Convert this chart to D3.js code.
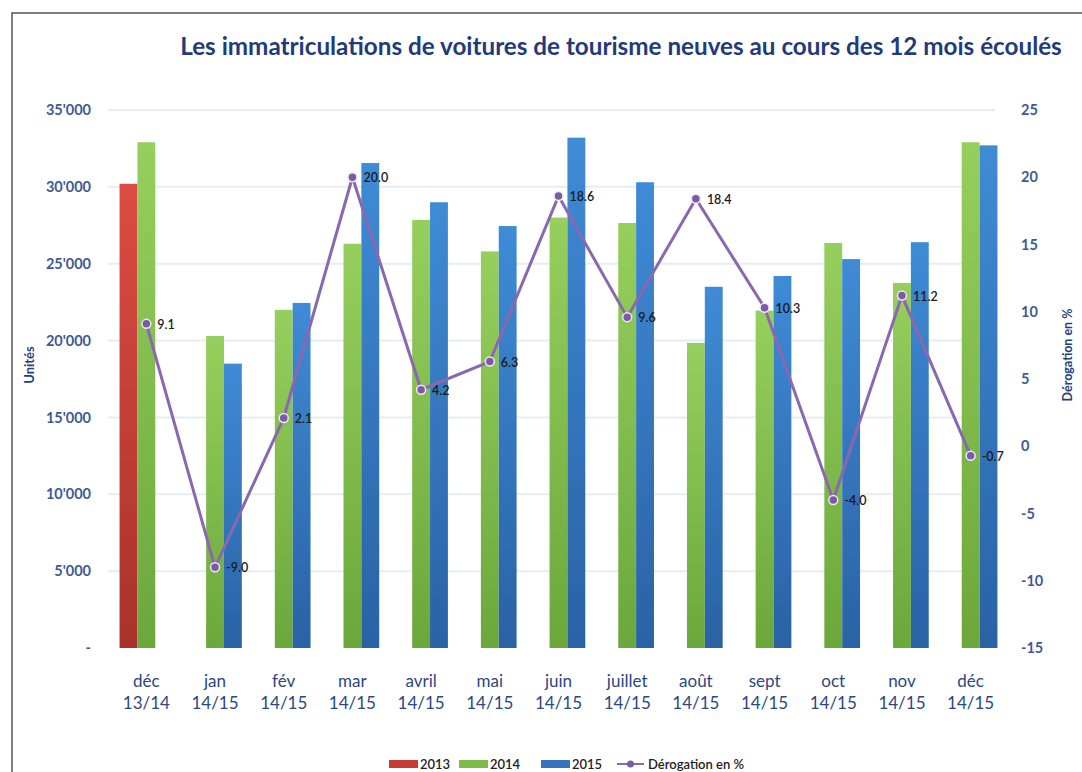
<!DOCTYPE html>
<html>
<head>
<meta charset="utf-8">
<script src="https://cdn.jsdelivr.net/npm/d3@7"></script>
<style>
  body { margin: 0; background: #fff; }
  svg { display: block; font-family: Lato, "Open Sans", sans-serif; }
</style>
</head>
<body>
<div id="chart"></div>
<script>
// data
var months = ['déc', 'jan', 'fév', 'mar', 'avril', 'mai', 'juin', 'juillet', 'août', 'sept', 'oct', 'nov', 'déc'];
var periods = ['13/14', '14/15', '14/15', '14/15', '14/15', '14/15', '14/15', '14/15', '14/15', '14/15', '14/15', '14/15', '14/15'];
var units2013 = [30200, null, null, null, null, null, null, null, null, null, null, null, null];
var units2014 = [32900, 20300, 22000, 26300, 27850, 25800, 28000, 27650, 19850, 21950, 26350, 23750, 32900];
var units2015 = [null, 18500, 22450, 31550, 29000, 27450, 33200, 30300, 23500, 24200, 25300, 26400, 32700];
var derogation = [9.1, -9.0, 2.1, 20.0, 4.2, 6.3, 18.6, 9.6, 18.4, 10.3, -4.0, 11.2, -0.7];
var leftTicks = [0, 5000, 10000, 15000, 20000, 25000, 30000, 35000];
var rightTicks = [-15, -10, -5, 0, 5, 10, 15, 20, 25];

var W = 1082, H = 772;
var svg = d3.select('#chart').append('svg').attr('width', W).attr('height', H);

var plot = { left: 112, right: 1005, top: 110, bottom: 648 };

var cats = d3.range(months.length);
var x = d3.scaleBand().domain(cats).range([plot.left, plot.right]).paddingInner(0.22).paddingOuter(0.11);
var xs = d3.scaleBand().domain(['2013', '2014', '2015']).range([0, x.bandwidth()]);
var y = d3.scaleLinear().domain([0, 35000]).range([plot.bottom, plot.top]);
var y2 = d3.scaleLinear().domain([-15, 25]).range([plot.bottom, plot.top]);

var loc = d3.formatLocale({ decimal: '.', thousands: "'", grouping: [3], currency: ['', ''] });
var fmt = loc.format(',');

// frame
svg.append('path')
  .attr('d', 'M12,' + H + 'V13H' + W)
  .attr('fill', 'none').attr('stroke', '#555').attr('stroke-width', 1.5);

// gradients
var defs = svg.append('defs');
var grads = [
  { id: 'g2013', top: '#dc4c42', bot: '#a8322b' },
  { id: 'g2014', top: '#96cf5d', bot: '#6ca73c' },
  { id: 'g2015', top: '#3f8bd6', bot: '#2a62a5' }
];
grads.forEach(function(g) {
  var lg = defs.append('linearGradient').attr('id', g.id).attr('x1', 0).attr('y1', 0).attr('x2', 0).attr('y2', 1);
  lg.append('stop').attr('offset', '0%').attr('stop-color', g.top);
  lg.append('stop').attr('offset', '100%').attr('stop-color', g.bot);
});

// title
var title = svg.append('text')
  .attr('x', 621).attr('y', 55)
  .attr('text-anchor', 'middle')
  .attr('font-size', 22).attr('font-weight', 'bold')
  .attr('fill', '#1f3b7c')
  .text('Les immatriculations de voitures de tourisme neuves au cours des 12 mois écoulés');
var tw = title.node().getComputedTextLength();
if (tw > 0) title.attr('font-size', 22 * 882 / tw);

// grid
svg.append('g').selectAll('line')
  .data(leftTicks.slice(1))
  .enter().append('line')
  .attr('x1', 108).attr('x2', 995)
  .attr('y1', function(d) { return y(d); }).attr('y2', function(d) { return y(d); })
  .attr('stroke', '#e4eef4').attr('stroke-width', 2);

// left axis
var yAxis = d3.axisLeft(y).tickValues(leftTicks).tickSize(0).tickPadding(0)
  .tickFormat(function(d) { return d === 0 ? '-' : fmt(d); });
var gy = svg.append('g').attr('transform', 'translate(91,0)').call(yAxis);
gy.select('.domain').remove();
gy.selectAll('text').attr('font-size', 14.5).attr('font-family', 'Lato, sans-serif').attr('fill', '#3d5a96').attr('font-weight', 'bold');

// right axis (plain hyphen for negatives)
var yAxis2 = d3.axisRight(y2).tickValues(rightTicks).tickSize(0).tickPadding(0)
  .tickFormat(function(d) { return String(d); });
var gy2 = svg.append('g').attr('transform', 'translate(1021,0)').call(yAxis2);
gy2.select('.domain').remove();
gy2.selectAll('text').attr('font-size', 14.5).attr('font-family', 'Lato, sans-serif').attr('fill', '#3d5a96').attr('font-weight', 'bold');

// axis titles
svg.append('text')
  .attr('transform', 'translate(34,365) rotate(-90)')
  .attr('text-anchor', 'middle')
  .attr('font-size', 13).attr('font-weight', 'bold').attr('fill', '#24407f')
  .text('Unités');
svg.append('text')
  .attr('transform', 'translate(1072,355) rotate(-90)')
  .attr('text-anchor', 'middle')
  .attr('font-size', 12.5).attr('font-weight', 'bold').attr('fill', '#24407f')
  .text('Dérogation en %');

// bars
var series = [
  { key: '2013', values: units2013 },
  { key: '2014', values: units2014 },
  { key: '2015', values: units2015 }
];
var barG = svg.append('g');
series.forEach(function(s) {
  barG.selectAll('.b' + s.key)
    .data(cats.filter(function(i) { return s.values[i] != null; }))
    .enter().append('rect')
    .attr('x', function(i) { return x(i) + xs(s.key); })
    .attr('width', xs.bandwidth())
    .attr('y', function(i) { return y(s.values[i]); })
    .attr('height', function(i) { return y(0) - y(s.values[i]); })
    .attr('fill', 'url(#g' + s.key + ')');
});

// x labels
var cx = function(i) { return x(i) + x.bandwidth() / 2; };
var xl = svg.append('g').selectAll('text').data(cats).enter().append('text')
  .attr('text-anchor', 'middle')
  .attr('font-size', 17).attr('fill', '#2b4784');
xl.append('tspan').attr('x', cx).attr('y', 687).text(function(i) { return months[i]; });
xl.append('tspan').attr('x', cx).attr('y', 709).text(function(i) { return periods[i]; });

// line
var line = d3.line()
  .x(function(d, i) { return cx(i); })
  .y(function(d) { return y2(d); });
svg.append('path')
  .datum(derogation)
  .attr('d', line)
  .attr('fill', 'none')
  .attr('stroke', '#8a68b0')
  .attr('stroke-width', 3)
  .attr('stroke-linejoin', 'round');

svg.append('g').selectAll('circle').data(derogation).enter().append('circle')
  .attr('cx', function(d, i) { return cx(i); })
  .attr('cy', function(d) { return y2(d); })
  .attr('r', 4.5)
  .attr('fill', '#7d5aa6')
  .attr('stroke', '#efe8f5').attr('stroke-width', 1.5);

svg.append('g').selectAll('text').data(derogation).enter().append('text')
  .attr('x', function(d, i) { return cx(i) + 11; })
  .attr('y', function(d) { return y2(d) + 5; })
  .attr('font-size', 12.5).attr('font-weight', 600).attr('fill', '#1a1a1a')
  .text(function(d) { return d.toFixed(1); });

// legend
var legendItems = [
  { label: '2013', type: 'bar', color: '#c63b33', x: 389 },
  { label: '2014', type: 'bar', color: '#7fbb48', x: 459 },
  { label: '2015', type: 'bar', color: '#3674c0', x: 541 },
  { label: 'Dérogation en %', type: 'line', color: '#8a68b0', x: 617 }
];
var lg = svg.append('g').selectAll('g').data(legendItems).enter().append('g')
  .attr('transform', function(d) { return 'translate(' + d.x + ',764)'; });
lg.filter(function(d) { return d.type === 'bar'; }).append('rect')
  .attr('x', 0).attr('y', -4).attr('width', 29).attr('height', 8)
  .attr('fill', function(d) { return d.color; });
lg.filter(function(d) { return d.type === 'line'; }).append('line')
  .attr('x1', 0).attr('x2', 27).attr('y1', 0).attr('y2', 0)
  .attr('stroke', function(d) { return d.color; }).attr('stroke-width', 2);
lg.filter(function(d) { return d.type === 'line'; }).append('circle')
  .attr('cx', 13.5).attr('cy', 0).attr('r', 3.5)
  .attr('fill', '#7d5aa6');
lg.append('text')
  .attr('x', 31)
  .attr('y', 4.5)
  .attr('font-size', 13).attr('font-weight', 600).attr('fill', '#222')
  .text(function(d) { return d.label; });
</script>
</body>
</html>
